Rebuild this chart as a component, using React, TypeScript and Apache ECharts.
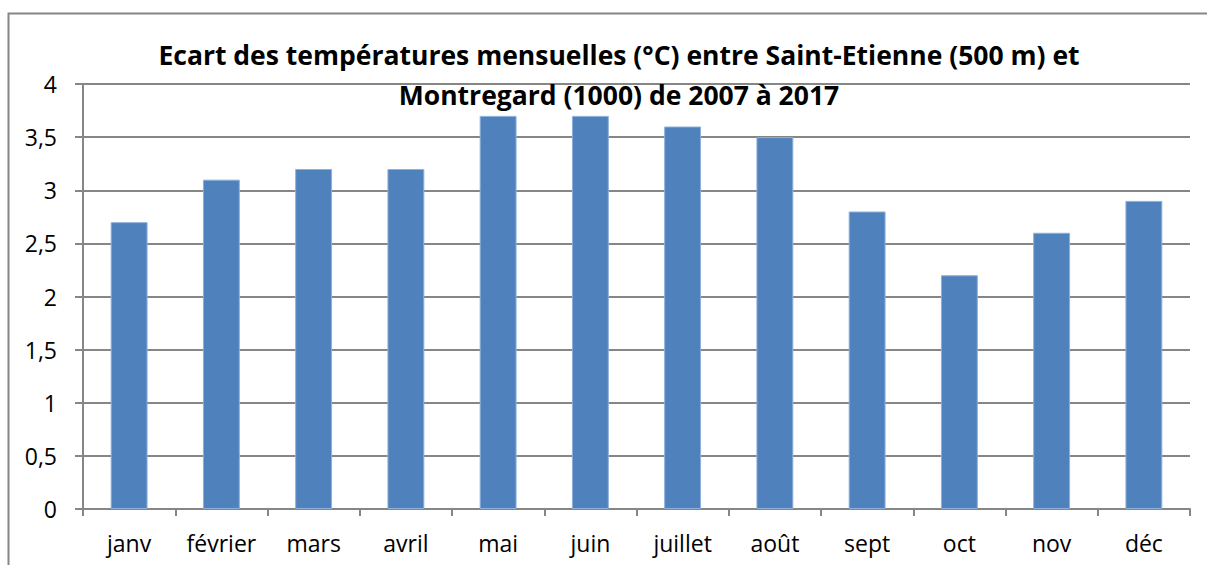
import React, { useEffect, useRef } from "react";
import * as echarts from "echarts";

const months = ["janv", "février", "mars", "avril", "mai", "juin", "juillet", "août", "sept", "oct", "nov", "déc"];
const ecarts = [2.7, 3.1, 3.2, 3.2, 3.7, 3.7, 3.6, 3.5, 2.8, 2.2, 2.6, 2.9];
const titleText = "Ecart des températures mensuelles (°C) entre Saint-Etienne (500 m) et\nMontregard (1000) de 2007 à 2017";

export default function App() {
  const ref = useRef<HTMLDivElement>(null);
  useEffect(() => {
    if (!ref.current) return;
    const chart = echarts.init(ref.current, null, { renderer: "svg" });
    const font = "'Open Sans', sans-serif";
    chart.setOption({
      animation: false,
      backgroundColor: "#ffffff",
      title: {
        text: titleText,
        left: 614,
        textAlign: "center",
        top: 30,
        textStyle: { fontFamily: font, fontWeight: "bold", fontSize: 26.5, color: "#000", lineHeight: 40 },
      },
      graphic: [
        {
          type: "polyline",
          shape: { points: [[8.5, 600], [8.5, 13.5], [1207, 13.5]] },
          style: { fill: "none", stroke: "#868686", lineWidth: 2 },
          silent: true,
        },
      ],
      grid: { left: 83, right: 17, top: 84, bottom: 56, containLabel: false },
      xAxis: {
        type: "category",
        data: months,
        axisLine: { show: true, lineStyle: { color: "#868686", width: 2 } },
        axisTick: { show: true, length: 7, lineStyle: { color: "#868686", width: 2 } },
        axisLabel: { fontFamily: font, fontSize: 23, color: "#000", margin: 22 },
      },
      yAxis: {
        type: "value",
        min: 0,
        max: 4,
        interval: 0.5,
        axisLine: { show: true, lineStyle: { color: "#868686", width: 2 } },
        axisTick: { show: true, length: 8, lineStyle: { color: "#868686", width: 2 } },
        splitLine: { show: true, lineStyle: { color: "#868686", width: 2 } },
        axisLabel: {
          fontFamily: font,
          fontSize: 23,
          color: "#000",
          margin: 26,
          formatter: (v: number) => String(v).replace(".", ","),
        },
      },
      series: [
        {
          type: "bar",
          data: ecarts,
          barWidth: "40%",
          itemStyle: { color: "#4F81BD", borderColor: "#8DB0DC", borderWidth: 1 },
        },
      ],
    });
    return () => chart.dispose();
  }, []);
  return <div ref={ref} style={{ width: 1207, height: 565, position: "absolute", left: 0, top: 0 }} />;
}
